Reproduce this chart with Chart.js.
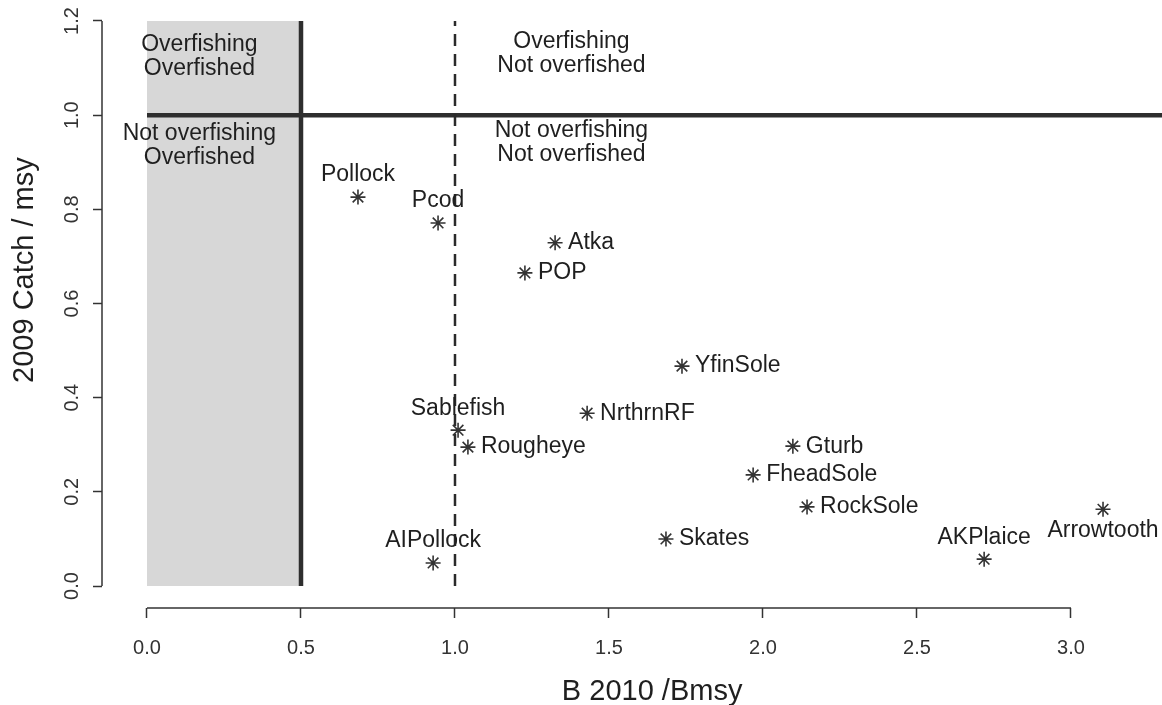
<!DOCTYPE html>
<html>
<head>
<meta charset="utf-8">
<style>
  html, body { margin: 0; padding: 0; background: #ffffff; }
  #wrap { width: 1162px; height: 705px; }
  canvas { display: block; }
</style>
<script src="https://cdn.jsdelivr.net/npm/chart.js@4/dist/chart.umd.min.js"></script>
</head>
<body>
<div id="wrap"><canvas id="c" width="1162" height="705"></canvas></div>
<script>
// ---------------- data ----------------
const species = ['Pollock', 'Pcod', 'Atka', 'POP', 'YfinSole', 'Sablefish', 'NrthrnRF', 'Rougheye',
                 'FheadSole', 'Gturb', 'RockSole', 'Skates', 'AIPollock', 'AKPlaice', 'Arrowtooth'];
const bRatio = [0.685, 0.945, 1.325, 1.227, 1.737, 1.010, 1.429, 1.042,
                1.968, 2.097, 2.143, 1.685, 0.929, 2.718, 3.104];
const catchRatio = [0.826, 0.771, 0.729, 0.665, 0.467, 0.331, 0.367, 0.295,
                    0.236, 0.297, 0.168, 0.100, 0.049, 0.057, 0.163];
// R-style label position: 1 below, 3 above, 4 right
const labelPos = [3, 3, 4, 4, 4, 3, 4, 4, 4, 4, 4, 4, 3, 3, 1];

const xTicks = [0.0, 0.5, 1.0, 1.5, 2.0, 2.5, 3.0];
const xTickLabels = ['0.0', '0.5', '1.0', '1.5', '2.0', '2.5', '3.0'];
const yTicks = [0.0, 0.2, 0.4, 0.6, 0.8, 1.0, 1.2];
const yTickLabels = ['0.0', '0.2', '0.4', '0.6', '0.8', '1.0', '1.2'];

const overfishedLimit = 0.5;   // B/Bmsy threshold (solid)
const bmsyTarget = 1.0;        // B/Bmsy = 1 (dashed)
const overfishingLimit = 1.0;  // Catch/msy = 1 (solid)
const yTop = 1.2;
const xRight = 3.4;

const regionText = [
  ['Overfishing', 'Overfished'],
  ['Not overfishing', 'Overfished'],
  ['Overfishing', 'Not overfished'],
  ['Not overfishing', 'Not overfished']
];
const regionX = [0.17, 0.17, 1.378, 1.378];
const regionY = [1.125, 0.936, 1.130, 0.941];

const xTitle = 'B 2010 /Bmsy';
const yTitle = '2009 Catch / msy';

// ---------------- chart ----------------
const FONT = '"Liberation Sans", Arial, Helvetica, sans-serif';
const TXT = '#1f1f1f';

const bgPlugin = {
  id: 'bg',
  beforeDraw(chart) {
    const c = chart.ctx;
    c.save();
    c.fillStyle = '#ffffff';
    c.fillRect(0, 0, chart.width, chart.height);
    c.restore();
  }
};

const annotPlugin = {
  id: 'annot',
  afterDatasetsDraw(chart) {
    const c = chart.ctx;
    const xs = chart.scales.x, ys = chart.scales.y;
    c.save();
    // region labels
    c.fillStyle = TXT;
    c.font = '23px ' + FONT;
    c.textAlign = 'center';
    c.textBaseline = 'middle';
    regionText.forEach((lines, k) => {
      const cx = xs.getPixelForValue(regionX[k]);
      const cy = ys.getPixelForValue(regionY[k]);
      const lh = 24;
      lines.forEach((t, j) => {
        c.fillText(t, cx, cy + (j - (lines.length - 1) / 2) * lh);
      });
    });
    // point labels
    const meta = chart.getDatasetMeta(3);
    meta.data.forEach((el, i) => {
      const p = labelPos[i];
      if (p === 3) {
        c.textAlign = 'center'; c.textBaseline = 'middle';
        c.fillText(species[i], el.x, el.y - 22);
      } else if (p === 1) {
        c.textAlign = 'center'; c.textBaseline = 'middle';
        c.fillText(species[i], el.x, el.y + 21);
      } else if (p === 4) {
        c.textAlign = 'left'; c.textBaseline = 'middle';
        c.fillText(species[i], el.x + 13, el.y);
      }
    });
    c.restore();
  },
  afterDraw(chart) {
    const c = chart.ctx;
    const xs = chart.scales.x, ys = chart.scales.y;
    const ca = chart.chartArea;
    c.save();
    c.strokeStyle = '#333333';
    c.lineWidth = 1.5;
    // x axis line (first to last tick)
    c.beginPath();
    c.moveTo(xs.getPixelForValue(xTicks[0]), ca.bottom);
    c.lineTo(xs.getPixelForValue(xTicks[xTicks.length - 1]), ca.bottom);
    c.stroke();
    // y axis line
    c.beginPath();
    c.moveTo(ca.left, ys.getPixelForValue(yTicks[0]));
    c.lineTo(ca.left, ys.getPixelForValue(yTicks[yTicks.length - 1]));
    c.stroke();
    // axis titles
    c.fillStyle = TXT;
    c.font = '29px ' + FONT;
    c.textAlign = 'center';
    c.textBaseline = 'alphabetic';
    c.fillText(xTitle, xs.getPixelForValue(1.64), ca.bottom + 92);
    c.translate(33, ys.getPixelForValue(0.671));
    c.rotate(-Math.PI / 2);
    c.fillText(yTitle, 0, 0);
    c.restore();
  }
};

const pts = bRatio.map((b, i) => ({ x: b, y: catchRatio[i] }));

new Chart(document.getElementById('c'), {
  type: 'scatter',
  data: {
    datasets: [
      { // shaded overfished zone
        data: [{ x: 0, y: yTop }, { x: overfishedLimit, y: yTop }],
        showLine: true, fill: 'origin', backgroundColor: '#d7d7d7',
        borderWidth: 0, pointRadius: 0, order: 5
      },
      { // overfishing line (solid horizontal)
        data: [{ x: 0, y: overfishingLimit }, { x: xRight, y: overfishingLimit }],
        showLine: true, borderColor: '#2e2e2e', borderWidth: 4.5, pointRadius: 0, order: 3
      },
      { // overfished line (solid vertical)
        data: [{ x: overfishedLimit, y: 0 }, { x: overfishedLimit, y: yTop }],
        showLine: true, borderColor: '#2e2e2e', borderWidth: 4.5, pointRadius: 0, order: 3
      },
      { // species
        data: pts,
        pointStyle: 'star', pointRadius: 7.5, pointBorderWidth: 1.6,
        borderColor: '#333333', backgroundColor: '#333333', order: 1
      },
      { // Bmsy dashed line
        data: [{ x: bmsyTarget, y: 0 }, { x: bmsyTarget, y: yTop }],
        showLine: true, borderColor: '#2a2a2a', borderWidth: 2.5, borderDash: [12, 8],
        pointRadius: 0, order: 2
      }
    ]
  },
  options: {
    responsive: false,
    animation: false,
    devicePixelRatio: 1,
    layout: { padding: 0, autoPadding: false },
    plugins: { legend: { display: false }, tooltip: { enabled: false } },
    scales: {
      x: {
        type: 'linear',
        min: -0.1461, max: 3.2955,
        afterBuildTicks: s => { s.ticks = xTicks.map(v => ({ value: v })); },
        afterFit: s => { s.height = 97; s.paddingLeft = 0; s.paddingRight = 0; },
        grid: { display: true, drawOnChartArea: false, drawTicks: true, tickLength: 10, tickColor: '#333333', tickWidth: 1.5 },
        border: { display: false },
        ticks: {
          autoSkip: false, maxRotation: 0, minRotation: 0,
          callback: (v, i) => xTickLabels[i],
          font: { family: FONT, size: 20 }, color: '#333333', padding: 18
        }
      },
      y: {
        type: 'linear',
        min: -0.0467, max: 1.2446,
        afterBuildTicks: s => { s.ticks = yTicks.map(v => ({ value: v })); },
        afterFit: s => { s.width = 102; s.paddingTop = 0; s.paddingBottom = 0; },
        grid: { display: true, drawOnChartArea: false, drawTicks: true, tickLength: 9, tickColor: '#333333', tickWidth: 1.5 },
        border: { display: false },
        ticks: {
          autoSkip: false, minRotation: 90, maxRotation: 90, crossAlign: 'center',
          callback: (v, i) => yTickLabels[i],
          font: { family: FONT, size: 20 }, color: '#333333', padding: 7
        }
      }
    }
  },
  plugins: [bgPlugin, annotPlugin]
});
</script>
</body>
</html>
